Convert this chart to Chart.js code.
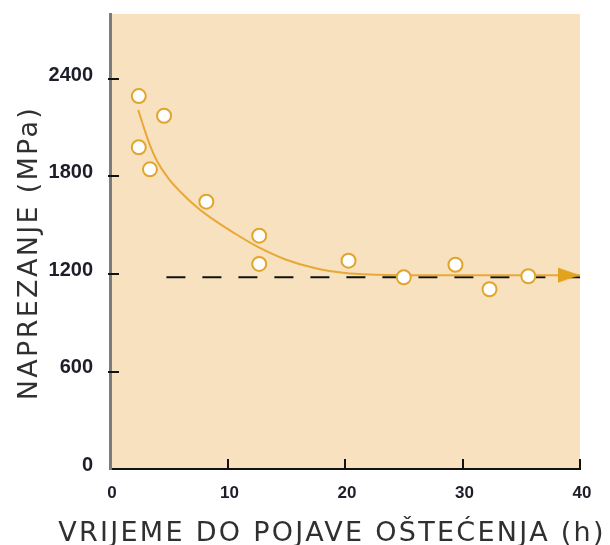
<!DOCTYPE html>
<html>
<head>
<meta charset="utf-8">
<script src="https://cdn.jsdelivr.net/npm/chart.js@4/dist/chart.umd.min.js"></script>
<style>
  html, body { margin: 0; padding: 0; background: #ffffff; }
  #c { display: block; }
</style>
</head>
<body>
<canvas id="c" width="610" height="545"></canvas>
<script>
// ---- data ----
const timeH      = [2.45, 4.6, 2.45, 3.4, 8.2, 12.7, 12.7, 20.3, 25.0, 29.4, 32.3, 35.6];
const stressMPa  = [2295, 2174, 1980, 1844, 1645, 1436, 1262, 1282, 1180, 1257, 1106, 1186];
const curveX     = [2.4, 3, 3.5, 4, 5, 6, 7.5, 9, 10.5, 12.5, 15, 17.5, 20, 22.5, 25, 30, 35, 40];
const curveY     = [2210, 2075, 1975, 1895, 1785, 1705, 1605, 1525, 1455, 1370, 1288, 1235, 1206, 1196, 1193, 1193, 1193, 1193];
const refX       = [4.8, 40];
const refY       = [1180, 1180];
const xTicks     = [0, 10, 20, 30, 40];
const yTicks     = [0, 600, 1200, 1800, 2400];
const xTitle     = 'VRIJEME DO POJAVE OŠTEĆENJA (h)';
const yTitle     = 'NAPREZANJE (MPa)';

const toXY = (xs, ys) => xs.map((x, i) => ({ x: x, y: ys[i] }));

// arrow head image (tip at the image centre)
const arrow = document.createElement('canvas');
arrow.width = 44; arrow.height = 16;
(function () {
  const g = arrow.getContext('2d');
  g.fillStyle = '#E2A21E';
  g.beginPath();
  g.moveTo(0, 0.5); g.lineTo(22, 8); g.lineTo(0, 15.5); g.closePath();
  g.fill();
})();

const decor = {
  id: 'decor',
  beforeDraw(chart) {
    const { ctx, chartArea: a } = chart;
    ctx.save();
    ctx.fillStyle = '#F8E1BF';
    ctx.fillRect(a.left, a.top, a.right - a.left, a.bottom - a.top);
    ctx.restore();
  },
  afterDraw(chart) {
    const { ctx, chartArea: a, scales } = chart;
    ctx.save();
    // inward tick marks
    ctx.strokeStyle = '#111111';
    ctx.lineWidth = 2;
    scales.y.ticks.forEach(t => {
      const py = Math.round(scales.y.getPixelForValue(t.value));
      if (t.value === 0) return;
      ctx.beginPath(); ctx.moveTo(a.left - 2, py); ctx.lineTo(a.left + 9, py); ctx.stroke();
    });
    scales.x.ticks.forEach(t => {
      const px = Math.round(scales.x.getPixelForValue(t.value));
      if (t.value === 0) return;
      ctx.beginPath(); ctx.moveTo(px, a.bottom); ctx.lineTo(px, a.bottom - 10); ctx.stroke();
    });
    // axis titles
    ctx.fillStyle = '#303030';
    ctx.font = '27px "DejaVu Sans"';
    try { ctx.letterSpacing = '2.3px'; } catch (e) {}
    ctx.textAlign = 'center';
    ctx.textBaseline = 'alphabetic';
    ctx.fillText(xTitle, 332, 541);
    ctx.translate(37, 253);
    ctx.rotate(-Math.PI / 2);
    ctx.fillText(yTitle, 0, 0);
    ctx.restore();
  }
};

Chart.defaults.font.family = '"Liberation Sans", Arial, sans-serif';

new Chart(document.getElementById('c'), {
  type: 'scatter',
  data: {
    datasets: [
      {
        data: toXY(timeH, stressMPa),
        pointStyle: 'circle',
        pointRadius: 7,
        pointBackgroundColor: '#FFFFFF',
        pointBorderColor: '#E0A52C',
        pointBorderWidth: 2,
        showLine: false,
        order: 0
      },
      {
        data: toXY(curveX, curveY),
        showLine: true,
        borderColor: '#E8A838',
        borderWidth: 2,
        cubicInterpolationMode: 'monotone',
        pointRadius: c => (c.dataIndex === curveX.length - 1 ? 11 : 0),
        pointStyle: c => (c.dataIndex === curveX.length - 1 ? arrow : 'circle'),
        pointBorderWidth: 0,
        clip: false,
        order: 1
      },
      {
        data: toXY(refX, refY),
        showLine: true,
        borderColor: '#111111',
        borderWidth: 2,
        borderDash: [19, 17],
        pointRadius: 0,
        clip: false,
        order: 2
      }
    ]
  },
  options: {
    responsive: false,
    animation: false,
    events: [],
    layout: { autoPadding: false, padding: { top: 14, right: 30, left: 0, bottom: 0 } },
    plugins: { legend: { display: false }, tooltip: { enabled: false } },
    scales: {
      x: {
        type: 'linear',
        min: 0, max: 40,
        afterBuildTicks: s => { s.ticks = xTicks.map(v => ({ value: v })); },
        afterFit: s => { s.height = 76; s.paddingLeft = 0; s.paddingRight = 0; },
        grid: { display: false, drawTicks: false },
        border: { display: true, color: '#111111', width: 2 },
        ticks: { padding: 14, labelOffset: 2, color: '#1e1e2a', font: { size: 17, weight: 'bold' },
                 callback: v => String(v) }
      },
      y: {
        type: 'linear',
        min: 0, max: 2800,
        afterBuildTicks: s => { s.ticks = yTicks.map(v => ({ value: v })); },
        afterFit: s => { s.width = 110; s.paddingTop = 0; s.paddingBottom = 0; },
        grid: { display: false, drawTicks: false },
        border: { display: true, color: '#7c7c7c', width: 3 },
        ticks: { padding: 17, labelOffset: -4, color: '#1e1e2a', font: { size: 20, weight: 'bold' },
                 callback: v => String(v) }
      }
    }
  },
  plugins: [decor]
});
</script>
</body>
</html>
